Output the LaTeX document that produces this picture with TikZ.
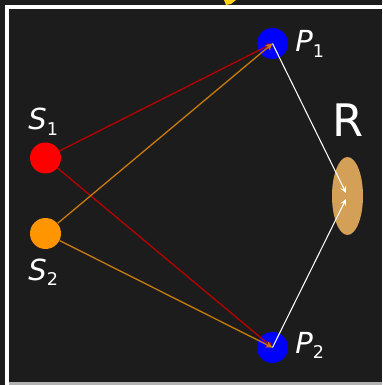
\documentclass[tikz,border=0pt]{standalone}
\usepackage{fontspec}
\setmainfont{DejaVu Sans}
\usepackage{tikz}
\usetikzlibrary{arrows,positioning,shapes.geometric}
\definecolor{bgDark}{HTML}{1C1C1C}
\definecolor{srcRed}{HTML}{FF0000}
\definecolor{srcOrange}{HTML}{FF9500}
\definecolor{rayRed}{HTML}{B80000}
\definecolor{rayOrange}{HTML}{C87A0A}
\definecolor{detTan}{HTML}{D4A058}
\definecolor{titleYellow}{HTML}{FFD21A}
\newcommand{\sublab}[2]{\textit{#1}\raisebox{-3.2pt}{\fontsize{10}{10}\selectfont #2}}

\begin{document}
\begin{tikzpicture}[
  x=0.02cm, y=-0.02cm,
  dot/.style={
    circle,
    inner sep=0pt,
    minimum size=0.62cm
  },
  lab/.style={
    inner sep=0pt,
    anchor=base west,
    text=white,
    font=\fontsize{16.5}{16.5}\selectfont
  },
  ray/.style={->,>=stealth,line width=0.75pt},
  beam/.style={->,>=stealth,line width=0.6pt,white,shorten >=2pt}
]
  \fill[bgDark] (0,0) rectangle (382,385);
  \useasboundingbox (0,0) rectangle (382,385);
  % frame
  \fill[white] (5,5) rectangle (9,385);
  \fill[white] (5,5) rectangle (382,9);
  \fill[gray!60] (9,382) rectangle (382,385);
  \fill[titleYellow] (224,0) -- (236,0) -- (231,4) -- (226,5) -- cycle;

  \node[dot,fill=srcRed] (s1) at (45.5,158) {};
  \node[dot,fill=srcOrange] (s2) at (45.5,233.5) {};
  \node[dot,fill=blue] (p1) at (272.5,43.5) {};
  \node[dot,fill=blue] (p2) at (272.5,347.5) {};
  \node[ellipse,fill=detTan,inner sep=0pt,minimum width=0.62cm,
    minimum height=1.56cm] (r) at (347.5,196) {};

  \node[lab] (s1lab) at (28,130) {\sublab{S}{1}};
  \node[lab] (s2lab) at (28,280) {\sublab{S}{2}};
  \node[lab] (p1lab) at (295,52) {\sublab{P}{1}};
  \node[lab] (p2lab) at (295,353) {\sublab{P}{2}};
  \node[lab,anchor=base,font=\fontsize{25.5}{25.5}\selectfont] (rlab)
    at (348.5,136) {R};

  \draw[ray,rayRed] (s1)--(p1.center);
  \draw[ray,rayRed] (s1)--(p2.center);
  \draw[ray,rayOrange] (s2)--(p1.center);
  \draw[ray,rayOrange] (s2)--(p2.center);
  \draw[beam] (p1.center)--(r.center);
  \draw[beam] (p2.center)--(r.center);
\end{tikzpicture}
\end{document}
